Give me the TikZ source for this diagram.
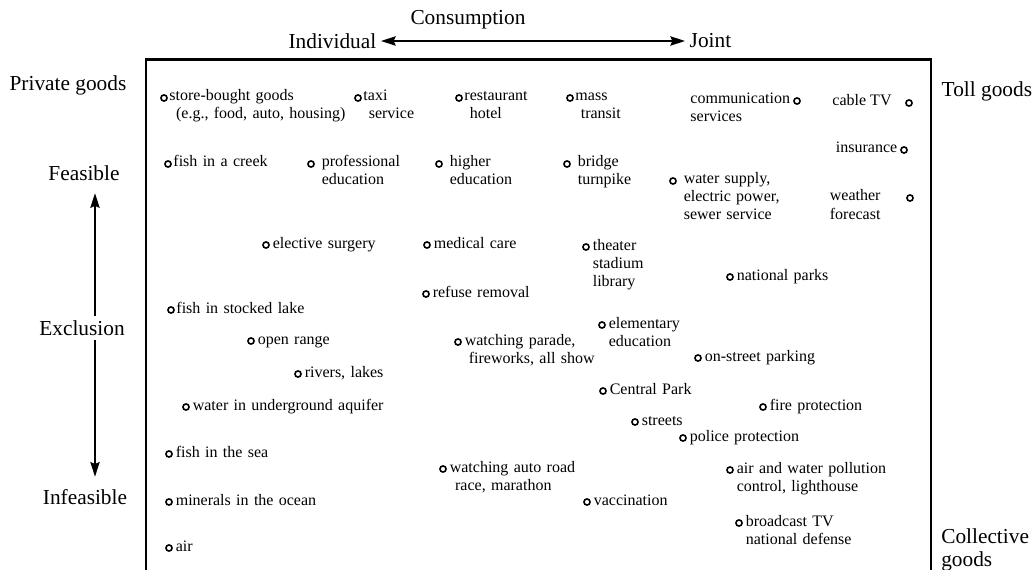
\documentclass[tikz,border=0pt]{standalone}
\usepackage{fontspec}
\setmainfont{Liberation Serif}
\usetikzlibrary{arrows.meta, positioning}

\begin{document}
\begin{tikzpicture}[
    x=0.75pt, y=-0.75pt,
    >={Stealth[length=11pt, width=7pt, inset=1.5pt]},
    dot/.style={circle, draw, line width=1.2pt, inner sep=0pt, minimum size=4.6pt},
    goodtext/.style={yshift=-2.25pt, align=left, inner sep=0pt,
        font=\fontsize{12}{13.5}\selectfont},
    good/.style={goodtext, anchor=base west, text width=9cm},
    goodleft/.style={goodtext, anchor=base east},
    axislabel/.style={font=\fontsize{16}{17.5}\selectfont},
    axisline/.style={line width=1.1pt},
    frame/.style={line width=1.7pt}
]
\useasboundingbox (0,0) rectangle (1034,570);

% Consumption axis
\node[axislabel] (cons) at (468,20) {Consumption};
\node[axislabel, anchor=east] (indiv) at (381,41) {Individual};
\node[axislabel, anchor=west] (joint) at (685,41) {Joint};
\draw[axisline, <->] (indiv) -- (joint);

% Exclusion axis
\coordinate (axisx) at (95,0);
\node[axislabel] (feas) at (84,173) {Feasible};
\node[axislabel] (excl) at (82,328) {Exclusion};
\node[axislabel] (infeas) at (85,497) {Infeasible};
\draw[axisline, ->, shorten >=6pt] (excl.north -| axisx) -- (feas.south -| axisx);
\draw[axisline, ->, shorten >=6pt] (excl.south -| axisx) -- (infeas.north -| axisx);

% Corner labels
\node[axislabel] (private) at (68,85) {Private goods};
\node[axislabel, anchor=west] (toll) at (937,91) {Toll goods};
\node[axislabel, anchor=base west, text width=2cm, align=left, inner sep=0pt] (collective) at (941,543) {Collective\\goods};

% Frame
\draw[frame] (146,575) |- (931,59.5) -- (931,575);

% Goods
\node[dot] (store) at (164,98) {};
\node[right=1pt of store, good] (storeT) {store-bought goods\\\hspace*{5pt}(e.g., food, auto, housing)};
\node[dot] (taxi) at (358,98) {};
\node[right=1pt of taxi, good] (taxiT) {taxi\\\hspace*{4pt}service};
\node[dot] (rest) at (459,98) {};
\node[right=1pt of rest, good] (restT) {restaurant\\\hspace*{4pt}hotel};
\node[dot] (mass) at (570,98) {};
\node[right=1pt of mass, good] (massT) {mass\\\hspace*{4pt}transit};
\node[dot] (comm) at (797,101) {};
\node[left=2pt of comm, goodleft, text width=74.8pt] (commT) {communication\\services};
\node[dot] (cable) at (909,103) {};
\node[left=10pt of cable, goodleft] (cableT) {cable TV};
\node[dot] (insur) at (904,150) {};
\node[left=2pt of insur, goodleft] (insurT) {insurance};

\node[dot] (creek) at (168,164) {};
\node[right=1pt of creek, good] (creekT) {fish in a creek};
\node[dot] (profed) at (311,164) {};
\node[right=5pt of profed, good] (profedT) {professional\\education};
\node[dot] (highed) at (439,164) {};
\node[right=5pt of highed, good] (highedT) {higher\\education};
\node[dot] (bridge) at (567,164) {};
\node[right=5pt of bridge, good] (bridgeT) {bridge\\turnpike};
\node[dot] (water) at (673,181) {};
\node[right=5pt of water, good] (waterT) {water supply,\\electric power,\\sewer service};
\node[dot] (weather) at (910,198) {};
\node[left=19pt of weather, goodleft, text width=38pt] (weatherT) {weather\\forecast};

\node[dot] (surgery) at (266,245) {};
\node[right=2pt of surgery, good] (surgeryT) {elective surgery};
\node[dot] (medical) at (427,245) {};
\node[right=2pt of medical, good] (medicalT) {medical care};
\node[dot] (theater) at (586,247) {};
\node[right=2pt of theater, good] (theaterT) {theater\\stadium\\library};
\node[dot] (parks) at (730,277) {};
\node[right=2pt of parks, good] (parksT) {national parks};
\node[dot] (refuse) at (426,294) {};
\node[right=2pt of refuse, good] (refuseT) {refuse removal};
\node[dot] (stocked) at (171,310) {};
\node[right=1pt of stocked, good] (stockedT) {fish in stocked lake};
\node[dot] (elem) at (602,325) {};
\node[right=2pt of elem, good] (elemT) {elementary\\education};
\node[dot] (range) at (251,341) {};
\node[right=2pt of range, good] (rangeT) {open range};
\node[dot] (parade) at (458,342) {};
\node[right=2pt of parade, good] (paradeT) {watching parade,\\\hspace*{3pt}fireworks, all show};
\node[dot] (parking) at (698,358) {};
\node[right=2pt of parking, good] (parkingT) {on-street parking};
\node[dot] (rivers) at (298,374) {};
\node[right=2pt of rivers, good] (riversT) {rivers, lakes};
\node[dot] (central) at (603,391) {};
\node[right=2pt of central, good] (centralT) {Central Park};
\node[dot] (aquifer) at (186,407) {};
\node[right=2pt of aquifer, good] (aquiferT) {water in underground aquifer};
\node[dot] (fire) at (763,407) {};
\node[right=2pt of fire, good] (fireT) {fire protection};
\node[dot] (streets) at (635,422) {};
\node[right=2pt of streets, good] (streetsT) {streets};
\node[dot] (police) at (683,438) {};
\node[right=2pt of police, good] (policeT) {police protection};

\node[dot] (sea) at (169,454) {};
\node[right=2pt of sea, good] (seaT) {fish in the sea};
\node[dot] (race) at (443,469) {};
\node[right=2pt of race, good] (raceT) {watching auto road\\\hspace*{4pt}race, marathon};
\node[dot] (pollution) at (730,470) {};
\node[right=2pt of pollution, good] (pollutionT) {air and water pollution\\control, lighthouse};
\node[dot] (minerals) at (169,502) {};
\node[right=2pt of minerals, good] (mineralsT) {minerals in the ocean};
\node[dot] (vacc) at (587,502) {};
\node[right=2pt of vacc, good] (vaccT) {vaccination};
\node[dot] (tv) at (739,523) {};
\node[right=2pt of tv, good] (tvT) {broadcast TV\\national defense};
\node[dot] (air) at (169,548) {};
\node[right=2pt of air, good] (airT) {air};

\end{tikzpicture}
\end{document}
